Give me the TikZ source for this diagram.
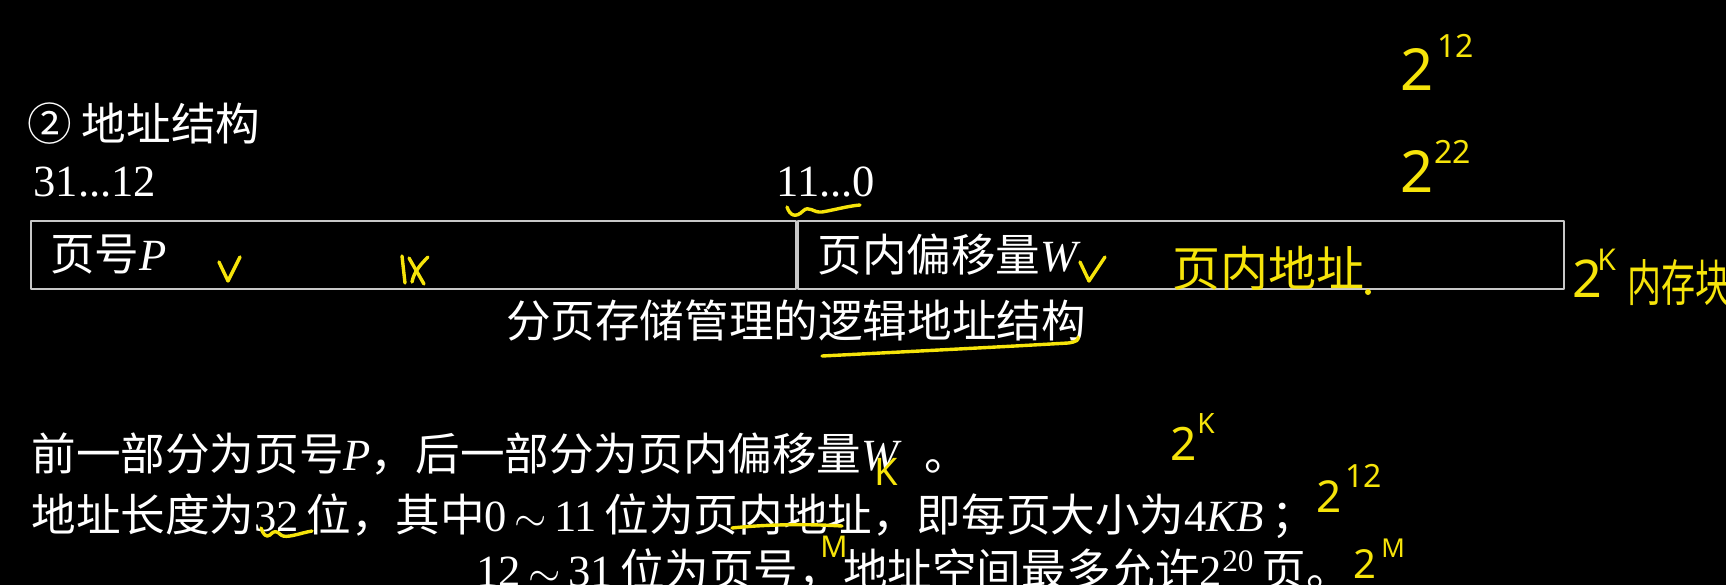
\documentclass[tikz,border=0pt]{standalone}
\usepackage{fontspec}
\setmainfont{Liberation Serif}
\newfontfamily\cjk{Noto Sans CJK SC}
\newfontfamily\handfont{Noto Sans}
\usepackage{graphicx}
\usepackage{tikz}
\usepackage{xcolor}
\usetikzlibrary{positioning}

\definecolor{hlyellow}{RGB}{246,228,10}
\definecolor{boxgray}{RGB}{200,200,200}
\newcommand{\zh}[1]{{\cjk #1}}
\newcommand{\bodyfont}{\fontsize{22.3pt}{26pt}\selectfont}
\newcommand{\handsize}[1]{\handfont\fontsize{#1}{#1}\selectfont}
\newcommand{\handzh}[1]{\cjk\fontsize{#1}{#1}\selectfont}

\tikzset{
  txt/.style={text=white, inner sep=0pt, anchor=west, font=\bodyfont},
  field/.style={draw=boxgray, line width=1pt, minimum height=34pt, inner sep=0pt},
  hand/.style={draw=hlyellow, line width=1.7pt, line cap=round, line join=round},
  handtxt/.style={text=hlyellow, inner sep=0pt, anchor=base west},
}

\begin{document}
\begin{tikzpicture}[x=0.5pt, y=-0.5pt, line cap=round, line join=round]
  \useasboundingbox (0,0) rectangle (1726,585);
  \fill[black] (0,0) rectangle (1726,585);

  % printed slide text
  \node[txt] (title) at (27,124) {\zh{② 地址结构}};
  \node[txt] (hibits) at (33,182) {31...12};
  \node[txt] (lobits) at (776,182) {11...0};

  \node[field, minimum width=382.5pt, anchor=north west] (pnum) at (30,220) {};
  \node[field, minimum width=383pt, anchor=north west] (woff) at (pnum.north east) {};
  \node[txt, right=10pt of pnum.west] (pnumlbl) {\zh{页号}\textit{P}};
  \node[txt, right=10pt of woff.west] (wofflbl) {\zh{页内偏移量}\textit{W}};

  \node[txt, anchor=center] (cap) at (796,321) {\zh{分页存储管理的逻辑地址结构}};

  \node[txt] (line1) at (31,454) {\zh{前一部分为页号}\textit{P}\zh{，后一部分为页内偏移量}\textit{W}\enspace\zh{。}};
  \node[txt] (line2) at (31,516) {\zh{地址长度为}32\,\zh{位，其中}0\,$\sim$\,11\,\zh{位为页内地址，即每页大小为}4\textit{KB}\,\zh{；}};
  \node[txt] (line3) at (476,570) {12\,$\sim$\,31\,\zh{位为页号，地址空间最多允许}2\textsuperscript{20}\,\zh{页。}};

  % handwritten notes
  \node[handtxt, font=\handsize{29pt}] (pw1) at (1400,90) {2};
  \node[handtxt, font=\handsize{16pt}] (pw1x) at (1437,57) {12};
  \node[handtxt, font=\handsize{29pt}] (pw2) at (1400,192) {2};
  \node[handtxt, font=\handsize{16pt}] (pw2x) at (1434,163) {22};
  \node[handtxt, font=\handsize{26pt}] (pw3) at (1572,297) {2};
  \node[handtxt, font=\handsize{15pt}] (pw3x) at (1597,270) {K};
  \node[handtxt, font=\handsize{23pt}] (pw4) at (1170,460) {2};
  \node[handtxt, font=\handsize{14pt}] (pw4x) at (1197,433) {K};
  \node[handtxt, font=\handsize{22pt}] (pw5) at (1316,512) {2};
  \node[handtxt, font=\handsize{16pt}] (pw5x) at (1345,487) {12};
  \node[handtxt, font=\handsize{20pt}] (pw6) at (1353,578) {2};
  \node[handtxt, font=\handsize{13pt}] (pw6x) at (1381,557) {M};
  \node[handtxt, font=\handsize{19pt}] (kmark) at (874,485) {K};
  \node[handtxt, font=\handsize{15pt}] (mmark) at (820,557) {M};

  \node[handtxt, anchor=west, font=\handzh{24pt}] (inpage) at (1172,268) {页内地址};
  \fill[hlyellow] (1368,292) circle (1.5pt);
  \node[handtxt, anchor=west, font=\handzh{25pt}] (memblk) at (1627,283) {\scalebox{0.68}[1]{内存块}};

  \draw[hand] (219,262) -- (228,281) -- (240,257);
  \draw[hand] (1080,262) -- (1089,281) -- (1105,257);
  \draw[hand] (402,256) -- (405,283);
  \draw[hand] (409,258) -- (424,284);
  \draw[hand] (428,257) .. controls (420,265) and (414,272) .. (412,282);

  \draw[hand] (787,207) .. controls (790,216) and (796,218) .. (803,211)
    .. controls (809,205) and (813,213) .. (822,212)
    .. controls (834,210) and (848,206) .. (860,205);
  \draw[hand] (822,356) .. controls (900,352) and (1000,347) .. (1068,343)
    .. controls (1076,342) and (1079,340) .. (1078,337);
  \draw[hand] (261,528) .. controls (263,534) and (266,538) .. (270,535)
    .. controls (274,530) and (277,531) .. (281,535)
    .. controls (286,539) and (300,533) .. (312,531);
  \draw[hand] (732,528) .. controls (770,524) and (810,524) .. (842,526);
\end{tikzpicture}
\end{document}
